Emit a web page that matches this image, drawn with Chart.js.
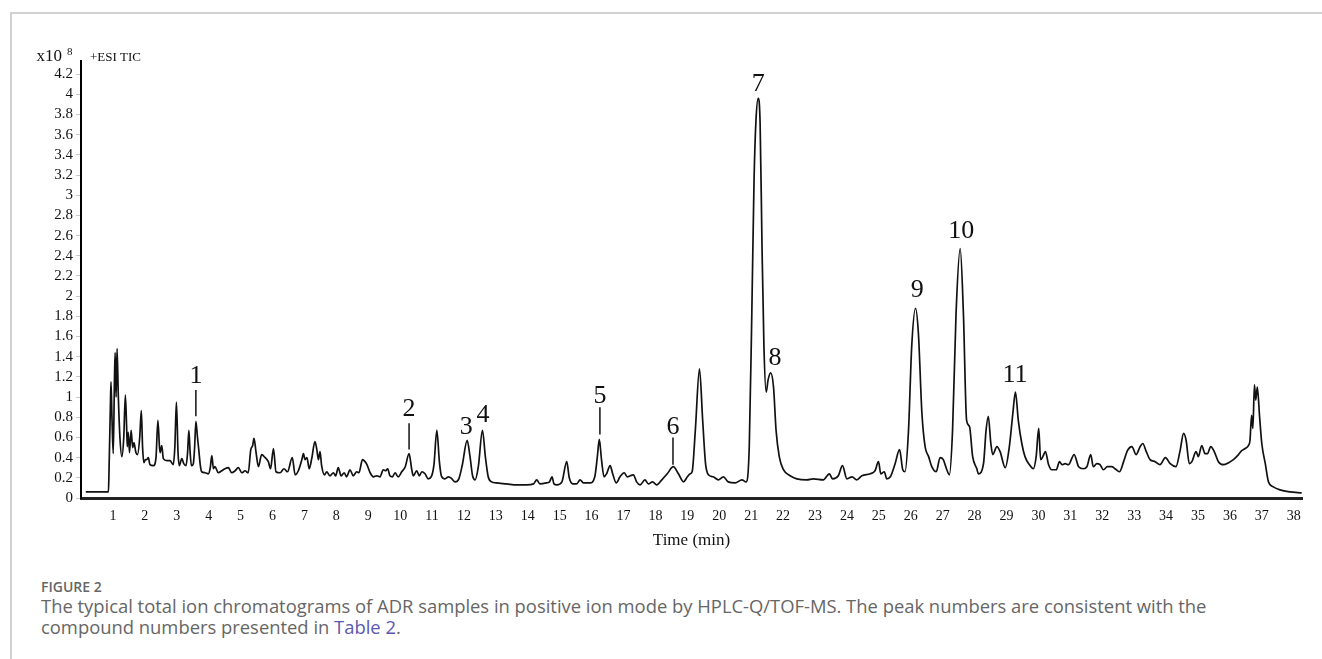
<!DOCTYPE html>
<html lang="en">
<head>
  <meta charset="UTF-8">
  <title>Total ion chromatogram</title>
  <script src="https://cdn.jsdelivr.net/npm/chart.js"></script>
  <style>
    html, body { margin: 0; padding: 0; background: #fff; overflow: hidden; }
    body { width: 1322px; height: 659px; position: relative; }
    .frame {
      position: absolute; left: 10px; top: 12px;
      width: 1400px; height: 700px;
      border-top: 2px solid #d2d2d2; border-left: 2px solid #d2d2d2;
    }
    .chart-box { position: absolute; left: 0; top: 0; width: 1322px; height: 560px; }
    .fig { position: absolute; left: 41px; top: 578px; font-family: "Open Sans", sans-serif; font-size: 14px; line-height: 18px; font-weight: 600; color: #666; }
    .txt { position: absolute; left: 41px; top: 595px; font-family: "Open Sans", sans-serif; font-size: 18.4px; line-height: 21px; color: #666; white-space: nowrap; }
    .txt a { color: #5b57b0; text-decoration: none; }
  </style>
</head>
<body>

<div class="frame"></div>

<div class="chart-box">
  <canvas id="tic-chart" width="1322" height="560"></canvas>
</div>

<div class="fig">FIGURE 2</div>
<div class="txt">The typical total ion chromatograms of ADR samples in positive ion mode by HPLC-Q/TOF-MS. The peak numbers are consistent with the<br>compound numbers presented in <a>Table 2</a>.</div>

<script>
// retention time (min)
const times = [
  0.15, 0.86, 0.88, 0.92, 0.94, 0.97, 1.01, 1.05, 1.07, 1.10, 1.13, 1.17, 1.22, 1.28, 1.34, 1.39,
  1.43, 1.45, 1.48, 1.52, 1.57, 1.62, 1.66, 1.72, 1.77, 1.84, 1.89, 1.93, 1.97, 2.02, 2.06, 2.11,
  2.16, 2.27, 2.35, 2.41, 2.46, 2.48, 2.53, 2.58, 2.69, 2.79, 2.89, 2.94, 2.99, 3.04, 3.08, 3.16,
  3.22, 3.29, 3.34, 3.38, 3.42, 3.46, 3.52, 3.56, 3.60, 3.65, 3.69, 3.74, 3.78, 3.89, 3.99, 4.05,
  4.10, 4.15, 4.20, 4.30, 4.41, 4.51, 4.62, 4.72, 4.83, 4.93, 5.04, 5.14, 5.24, 5.32, 5.38, 5.42,
  5.49, 5.56, 5.66, 5.77, 5.87, 5.94, 6.03, 6.11, 6.24, 6.36, 6.47, 6.62, 6.71, 6.81, 6.92, 6.97,
  7.02, 7.08, 7.15, 7.23, 7.33, 7.39, 7.44, 7.49, 7.54, 7.63, 7.70, 7.80, 7.91, 7.98, 8.06, 8.15,
  8.25, 8.32, 8.43, 8.53, 8.64, 8.71, 8.82, 8.90, 8.96, 9.06, 9.16, 9.27, 9.37, 9.47, 9.55, 9.61,
  9.68, 9.76, 9.84, 9.94, 10.05, 10.16, 10.28, 10.36, 10.41, 10.52, 10.60, 10.68, 10.78, 10.88, 10.99, 11.06,
  11.15, 11.23, 11.29, 11.39, 11.52, 11.62, 11.72, 11.84, 11.95, 12.10, 12.19, 12.27, 12.35, 12.45, 12.58, 12.67,
  12.76, 12.87, 13.00, 13.34, 13.65, 13.97, 14.18, 14.28, 14.38, 14.59, 14.68, 14.76, 14.82, 14.91, 15.07, 15.22,
  15.30, 15.41, 15.53, 15.64, 15.74, 15.95, 16.10, 16.18, 16.24, 16.31, 16.39, 16.47, 16.58, 16.66, 16.77, 16.89,
  17.02, 17.12, 17.21, 17.31, 17.41, 17.52, 17.67, 17.78, 17.91, 18.04, 18.20, 18.37, 18.56, 18.72, 18.88, 19.00,
  19.09, 19.15, 19.25, 19.38, 19.48, 19.57, 19.66, 19.81, 19.97, 20.13, 20.28, 20.50, 20.71, 20.84, 20.94, 21.02,
  21.09, 21.15, 21.22, 21.28, 21.34, 21.40, 21.47, 21.53, 21.61, 21.70, 21.78, 21.88, 22.01, 22.22, 22.43, 22.74,
  22.95, 23.26, 23.45, 23.55, 23.73, 23.86, 24.00, 24.16, 24.31, 24.47, 24.73, 24.88, 24.99, 25.06, 25.17, 25.25,
  25.36, 25.51, 25.65, 25.75, 25.82, 25.93, 26.03, 26.15, 26.24, 26.35, 26.45, 26.56, 26.66, 26.80, 26.92, 27.02,
  27.13, 27.21, 27.31, 27.42, 27.55, 27.65, 27.75, 27.84, 27.94, 28.07, 28.12, 28.28, 28.36, 28.43, 28.51, 28.57,
  28.70, 28.80, 28.96, 29.09, 29.20, 29.28, 29.37, 29.48, 29.58, 29.72, 29.84, 29.93, 30.01, 30.07, 30.14, 30.22,
  30.32, 30.42, 30.56, 30.66, 30.74, 30.84, 30.94, 31.12, 31.26, 31.41, 31.52, 31.64, 31.72, 31.83, 31.93, 32.04,
  32.16, 32.30, 32.40, 32.54, 32.67, 32.79, 32.93, 33.06, 33.19, 33.27, 33.38, 33.50, 33.66, 33.81, 33.98, 34.13,
  34.31, 34.44, 34.55, 34.63, 34.73, 34.81, 34.94, 35.01, 35.12, 35.22, 35.30, 35.40, 35.51, 35.64, 35.80, 35.96,
  36.11, 36.27, 36.37, 36.48, 36.58, 36.63, 36.68, 36.72, 36.77, 36.81, 36.86, 36.93, 37.00, 37.11, 37.21, 37.36,
  37.57, 37.88, 38.25
];

// intensity (x10^8)
const intensity = [
  0.06, 0.06, 0.30, 0.90, 1.15, 0.80, 0.44, 1.20, 1.44, 1.00, 1.48, 1.00, 0.60, 0.41, 0.60, 1.02,
  0.70, 0.51, 0.65, 0.45, 0.67, 0.50, 0.55, 0.45, 0.43, 0.60, 0.865, 0.50, 0.35, 0.38, 0.38, 0.40,
  0.33, 0.32, 0.40, 0.77, 0.50, 0.45, 0.52, 0.39, 0.37, 0.37, 0.33, 0.50, 0.95, 0.45, 0.32, 0.39,
  0.34, 0.32, 0.45, 0.67, 0.45, 0.32, 0.34, 0.50, 0.76, 0.60, 0.48, 0.32, 0.26, 0.25, 0.24, 0.30,
  0.42, 0.29, 0.31, 0.25, 0.27, 0.29, 0.30, 0.25, 0.27, 0.30, 0.25, 0.27, 0.25, 0.48, 0.52, 0.59,
  0.44, 0.31, 0.43, 0.40, 0.36, 0.29, 0.49, 0.26, 0.25, 0.29, 0.26, 0.40, 0.23, 0.27, 0.38, 0.44,
  0.38, 0.40, 0.29, 0.39, 0.56, 0.48, 0.38, 0.46, 0.32, 0.23, 0.26, 0.22, 0.25, 0.22, 0.30, 0.22,
  0.25, 0.21, 0.28, 0.22, 0.26, 0.25, 0.38, 0.36, 0.33, 0.25, 0.21, 0.22, 0.21, 0.28, 0.27, 0.29,
  0.22, 0.21, 0.25, 0.21, 0.26, 0.31, 0.44, 0.29, 0.22, 0.27, 0.22, 0.26, 0.24, 0.19, 0.22, 0.33,
  0.67, 0.36, 0.22, 0.19, 0.21, 0.19, 0.16, 0.19, 0.33, 0.57, 0.41, 0.22, 0.18, 0.31, 0.67, 0.41,
  0.21, 0.16, 0.15, 0.14, 0.13, 0.13, 0.14, 0.18, 0.14, 0.15, 0.16, 0.21, 0.14, 0.13, 0.16, 0.36,
  0.20, 0.14, 0.14, 0.18, 0.15, 0.15, 0.21, 0.41, 0.58, 0.38, 0.21, 0.24, 0.32, 0.24, 0.15, 0.21,
  0.25, 0.21, 0.22, 0.23, 0.16, 0.13, 0.18, 0.14, 0.16, 0.13, 0.18, 0.24, 0.31, 0.24, 0.16, 0.21,
  0.24, 0.26, 0.67, 1.28, 0.77, 0.34, 0.23, 0.21, 0.18, 0.21, 0.16, 0.15, 0.18, 0.16, 0.51, 1.83,
  3.15, 3.74, 3.96, 3.71, 2.49, 1.50, 1.05, 1.17, 1.24, 1.10, 0.67, 0.41, 0.28, 0.22, 0.19, 0.18,
  0.19, 0.18, 0.24, 0.19, 0.22, 0.32, 0.19, 0.21, 0.18, 0.22, 0.24, 0.27, 0.36, 0.24, 0.26, 0.19,
  0.21, 0.34, 0.48, 0.28, 0.26, 0.67, 1.50, 1.88, 1.63, 0.84, 0.51, 0.41, 0.31, 0.26, 0.40, 0.38,
  0.28, 0.23, 0.67, 1.83, 2.47, 1.83, 0.77, 0.71, 0.41, 0.29, 0.24, 0.34, 0.67, 0.81, 0.54, 0.43,
  0.51, 0.46, 0.30, 0.51, 0.84, 1.05, 0.77, 0.54, 0.41, 0.33, 0.29, 0.41, 0.69, 0.38, 0.41, 0.46,
  0.33, 0.28, 0.28, 0.36, 0.33, 0.34, 0.33, 0.43, 0.31, 0.29, 0.31, 0.43, 0.31, 0.34, 0.33, 0.28,
  0.31, 0.31, 0.29, 0.26, 0.36, 0.47, 0.51, 0.43, 0.51, 0.54, 0.46, 0.38, 0.36, 0.33, 0.40, 0.34,
  0.31, 0.47, 0.64, 0.57, 0.34, 0.36, 0.46, 0.41, 0.52, 0.44, 0.44, 0.51, 0.46, 0.36, 0.33, 0.35,
  0.38, 0.43, 0.47, 0.49, 0.52, 0.57, 0.82, 0.69, 1.12, 0.97, 1.10, 0.81, 0.54, 0.34, 0.16, 0.11,
  0.08, 0.06, 0.05
];

// peak numbers: label, position (min, x10^8) and optional leader line (from, to)
const peakLabels = ['1', '2', '3', '4', '5', '6', '7', '8', '9', '10', '11'];
const peakLabelTime = [3.60, 10.28, 12.07, 12.60, 16.26, 18.55, 21.22, 21.75, 26.20, 27.58, 29.27];
const peakLabelValue = [1.21, 0.88, 0.70, 0.82, 1.01, 0.70, 4.10, 1.39, 2.06, 2.64, 1.22];
const peakLineTop = [1.07, 0.74, null, null, 0.90, 0.60, null, null, null, null, null];
const peakLineBottom = [0.81, 0.48, null, null, 0.63, 0.33, null, null, null, null, null];

const yTicks = [0, 0.2, 0.4, 0.6, 0.8, 1, 1.2, 1.4, 1.6, 1.8, 2, 2.2, 2.4, 2.6, 2.8, 3, 3.2, 3.4, 3.6, 3.8, 4, 4.2];

const points = times.map((t, i) => ({ x: t, y: intensity[i] }));

const SERIF = '"Liberation Serif", "Times New Roman", serif';

// draws peak numbers, leader lines and the text around the axes
const annotations = {
  id: 'annotations',
  afterDraw(chart) {
    const ctx = chart.ctx;
    const xs = chart.scales.x;
    const ys = chart.scales.y;
    const area = chart.chartArea;
    ctx.save();
    ctx.fillStyle = '#111';
    ctx.strokeStyle = '#111';
    ctx.lineWidth = 1.5;
    ctx.textAlign = 'center';
    ctx.textBaseline = 'middle';
    ctx.font = '26px ' + SERIF;
    peakLabels.forEach((lab, i) => {
      const px = xs.getPixelForValue(peakLabelTime[i]);
      ctx.fillText(lab, px, ys.getPixelForValue(peakLabelValue[i]));
      if (peakLineTop[i] !== null) {
        ctx.beginPath();
        ctx.moveTo(px, ys.getPixelForValue(peakLineTop[i]));
        ctx.lineTo(px, ys.getPixelForValue(peakLineBottom[i]));
        ctx.stroke();
      }
    });

    // y axis unit
    ctx.textAlign = 'right';
    ctx.textBaseline = 'alphabetic';
    ctx.font = '17px ' + SERIF;
    ctx.fillText('x10', area.left - 19, area.top);
    ctx.textAlign = 'left';
    ctx.font = '11px ' + SERIF;
    ctx.fillText('8', area.left - 14, area.top - 6);
    ctx.font = '13px ' + SERIF;
    ctx.textBaseline = 'middle';
    ctx.fillText('+ESI TIC', area.left + 9, area.top - 3);

    // x axis title
    ctx.textAlign = 'center';
    ctx.font = '17px ' + SERIF;
    ctx.fillText('Time (min)', (area.left + area.right) / 2, area.bottom + 43);
    ctx.restore();
  }
};

const ctx = document.getElementById('tic-chart').getContext('2d');
const ticChart = new Chart(ctx, {
  type: 'scatter',
  data: {
    datasets: [{
      label: '+ESI TIC',
      data: points,
      showLine: true,
      borderColor: '#111',
      borderWidth: 1.7,
      pointRadius: 0,
      cubicInterpolationMode: 'monotone',
      fill: false
    }]
  },
  options: {
    responsive: false,
    animation: false,
    devicePixelRatio: 1,
    layout: { padding: { left: 0, top: 61, right: 20, bottom: 0 } },
    plugins: {
      legend: { display: false },
      tooltip: { enabled: false }
    },
    scales: {
      x: {
        type: 'linear',
        min: 0,
        max: 38.26,
        afterFit: (scale) => { scale.height = 62; },
        grid: { display: false, drawTicks: false },
        border: { display: true, color: '#222', width: 3 },
        ticks: {
          stepSize: 1,
          includeBounds: false,
          autoSkip: false,
          maxRotation: 0,
          padding: 10,
          color: '#111',
          font: { family: SERIF, size: 14 },
          callback: (v) => (v === 0 ? '' : v)
        }
      },
      y: {
        min: 0,
        max: 4.33,
        afterFit: (scale) => { scale.width = 81; },
        afterBuildTicks: (scale) => { scale.ticks = yTicks.map(v => ({ value: v })); },
        grid: { display: true, drawOnChartArea: false, drawTicks: true, tickLength: 5, color: '#c8c8c8' },
        border: { display: true, color: '#000', width: 2 },
        ticks: {
          autoSkip: false,
          padding: 3,
          color: '#111',
          font: { family: SERIF, size: 15 },
          callback: (v) => String(Math.round(v * 10) / 10)
        }
      }
    }
  },
  plugins: [annotations]
});
</script>

</body>
</html>
